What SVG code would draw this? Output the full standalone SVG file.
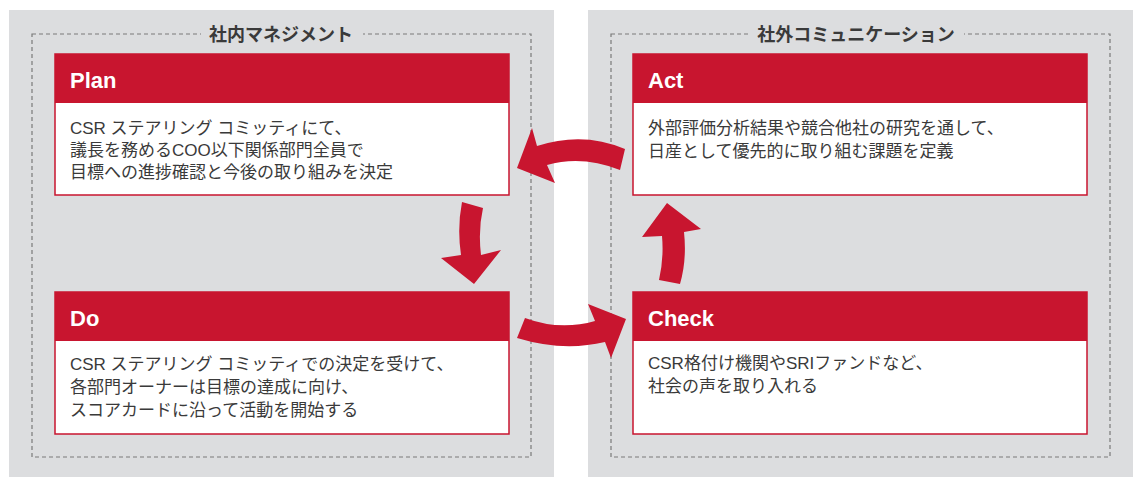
<svg xmlns="http://www.w3.org/2000/svg" width="1133" height="477" viewBox="0 0 1133 477">
<style>
.panel{fill:#dcdddf}
.dash{fill:none;stroke:#7a7a7a;stroke-width:1.2;stroke-dasharray:4 3}
.title{font-family:"Noto Sans CJK JP","Liberation Sans",sans-serif;font-size:18px;font-weight:700;fill:#3a3a3a;text-anchor:middle}
.hdr{fill:#c8152f}
.body{fill:#ffffff;stroke:#c8152f;stroke-width:1.5}
.lbl{font-family:"Liberation Sans","Noto Sans",sans-serif;font-size:22px;font-weight:700;fill:#ffffff}
.txt{font-family:"Liberation Sans","Noto Sans CJK JP",sans-serif;font-size:17px;fill:#3a3a3a}
.arrow{fill:#c8152f}
</style>
<rect width="1133" height="477" fill="#ffffff"/>
<g id="panel-internal">
<rect class="panel" x="9" y="10" width="545" height="467"/>
<rect class="dash" x="32" y="34" width="499" height="423"/>
<rect class="panel" x="201" y="22" width="162" height="24"/>
<text class="title" x="281" y="40.5">社内マネジメント</text>
</g>
<g id="panel-external">
<rect class="panel" x="588" y="10" width="545" height="467"/>
<rect class="dash" x="611" y="34" width="499" height="423"/>
<rect class="panel" x="748" y="22" width="216" height="24"/>
<text class="title" x="856" y="40.5">社外コミュニケーション</text>
</g>
<g id="plan">
<rect class="body" x="55" y="54" width="454" height="141"/>
<rect class="hdr" x="55" y="54" width="454" height="49"/>
<text class="lbl" x="70" y="88">Plan</text>
<text class="txt" x="70" y="134">CSR ステアリング コミッティにて、</text>
<text class="txt" x="70" y="156">議長を務めるCOO以下関係部門全員で</text>
<text class="txt" x="70" y="178">目標への進捗確認と今後の取り組みを決定</text>
</g>
<g id="do">
<rect class="body" x="55" y="292" width="454" height="142"/>
<rect class="hdr" x="55" y="292" width="454" height="49"/>
<text class="lbl" x="70" y="326">Do</text>
<text class="txt" x="70" y="370">CSR ステアリング コミッティでの決定を受けて、</text>
<text class="txt" x="70" y="393">各部門オーナーは目標の達成に向け、</text>
<text class="txt" x="70" y="416">スコアカードに沿って活動を開始する</text>
</g>
<g id="act">
<rect class="body" x="633" y="54" width="454" height="141"/>
<rect class="hdr" x="633" y="54" width="454" height="49"/>
<text class="lbl" x="648" y="88">Act</text>
<text class="txt" x="648" y="134">外部評価分析結果や競合他社の研究を通して、</text>
<text class="txt" x="648" y="157">日産として優先的に取り組む課題を定義</text>
</g>
<g id="check">
<rect class="body" x="633" y="292" width="454" height="142"/>
<rect class="hdr" x="633" y="292" width="454" height="49"/>
<text class="lbl" x="648" y="326">Check</text>
<text class="txt" x="648" y="369">CSR格付け機関やSRIファンドなど、</text>
<text class="txt" x="648" y="392">社会の声を取り入れる</text>
</g>
<g id="connectors">
<path class="arrow" d="M625,149 Q583,131 537,146 L532,128 L517,168 L555,183 L547,165 Q582,155 620,170 Z"/>
<path class="arrow" d="M462,202 Q457,228 461,255 L441,258 L474,284 L501,250 L481,255 Q478,230 483,208 Z"/>
<path class="arrow" d="M525,318 Q560,331 595,321 L588,304 L626,319 L611,358 L605,342 Q563,352 517,338 Z"/>
<path class="arrow" d="M659,280 Q664,258 662,236 L642,237 L667,203 L701,229 L684,232 Q687,260 680,284 Z"/>
</g>
</svg>
